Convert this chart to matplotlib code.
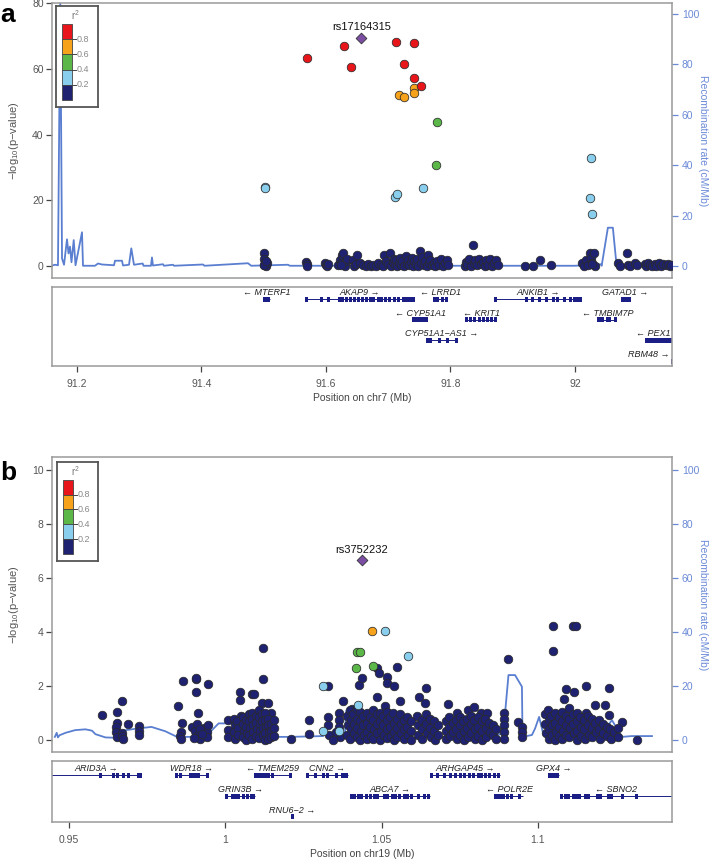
import numpy as np
import matplotlib
matplotlib.use('Agg')
import matplotlib.pyplot as plt
from matplotlib.patches import Rectangle

plt.rcParams['font.family'] = ['Liberation Sans', 'DejaVu Sans']
plt.rcParams['mathtext.default'] = 'regular'

# ---------------- DATA: panel a (chr7) ----------------
xlim_a = (91.16, 92.156)
lead_a = (91.657, 69.5, 'rs17164315')
red_a = [(91.569, 63.2), (91.629, 67.1), (91.640, 60.6), (91.713, 68.1), (91.741, 67.8),
         (91.725, 61.6), (91.741, 57.1), (91.752, 54.9)]
orange_a = [(91.741, 54.1), (91.741, 52.6), (91.717, 52.1), (91.726, 51.5)]
green_a = [(91.778, 43.9), (91.777, 30.8)]
lblue_a = [(91.502, 24.2), (91.502, 23.7), (91.711, 21.0), (91.714, 21.8), (91.756, 23.8),
           (92.026, 32.8), (92.025, 20.7), (92.027, 15.8)]
navy_a = [
    (91.500, 3.9), (91.501, 2.1), (91.502, 1.2), (91.503, 0.6), (91.500, 0.2), (91.504, 0.0),
    (91.505, 0.9), (91.501, 0.4), (91.503, 1.6),
    (91.568, 1.3), (91.569, 0.5), (91.570, 0.0),
    (91.598, 0.8), (91.600, 0.2), (91.602, 0.0), (91.604, 0.5),
    (91.620, 0.3), (91.622, 1.8), (91.624, 0.9), (91.626, 3.3), (91.628, 3.9), (91.630, 0.0),
    (91.632, 1.5), (91.634, 2.2), (91.625, 0.4),
    (91.643, 1.8), (91.645, 0.0), (91.648, 0.5), (91.650, 3.3), (91.655, 0.9), (91.660, 0.2),
    (91.664, 0.0), (91.668, 0.6), (91.672, 0.1), (91.676, 0.4), (91.680, 0.0), (91.684, 0.8),
    (91.688, 0.3), (91.692, 0.0), (91.694, 3.5), (91.697, 1.5), (91.699, 0.6), (91.703, 4.1),
    (91.705, 0.0), (91.707, 1.2), (91.709, 2.2), (91.711, 0.4), (91.713, 1.8), (91.715, 0.0),
    (91.717, 0.9), (91.719, 2.5), (91.721, 0.3), (91.723, 1.5), (91.725, 0.0), (91.728, 2.9),
    (91.730, 0.7), (91.732, 1.9), (91.734, 0.2), (91.736, 1.1), (91.738, 2.4), (91.740, 0.0),
    (91.742, 1.4), (91.744, 0.5), (91.746, 2.0), (91.748, 0.0), (91.751, 4.6), (91.753, 1.0),
    (91.755, 2.6), (91.757, 0.3), (91.759, 1.6), (91.762, 0.0), (91.764, 3.3), (91.766, 0.8),
    (91.768, 1.9), (91.770, 0.2), (91.773, 1.0), (91.776, 0.0), (91.779, 1.5), (91.782, 0.4),
    (91.785, 2.0), (91.788, 0.0), (91.791, 0.9), (91.794, 1.8), (91.796, 0.3),
    (91.823, 0.0), (91.825, 1.3), (91.827, 0.5), (91.830, 2.0), (91.833, 0.0), (91.836, 6.4),
    (91.838, 0.8), (91.840, 1.7), (91.843, 0.2), (91.846, 2.0), (91.849, 0.6), (91.852, 1.2),
    (91.855, 0.0), (91.858, 1.8), (91.861, 0.4), (91.864, 2.0), (91.867, 0.0), (91.870, 1.0),
    (91.873, 1.8), (91.876, 0.3),
    (91.920, 0.0), (91.932, 0.0), (91.944, 1.7), (91.961, 0.3),
    (92.012, 0.9), (92.015, 0.0), (92.018, 1.8), (92.021, 0.3), (92.024, 4.1), (92.026, 2.3),
    (92.028, 1.0), (92.030, 4.1), (92.032, 0.0), (92.027, 0.5),
    (92.069, 0.8), (92.072, 0.0), (92.084, 4.1), (92.086, 0.4), (92.089, 0.0), (92.097, 0.9),
    (92.100, 0.2),
    (92.112, 0.5), (92.115, 0.0), (92.118, 0.8), (92.121, 0.2), (92.124, 0.0), (92.128, 0.6),
    (92.131, 0.1), (92.135, 0.8), (92.138, 0.0), (92.142, 0.5), (92.146, 0.2), (92.149, 0.7),
    (92.153, 0.0), (92.155, 0.4),
]
recomb_a_x = [91.1600, 91.1648, 91.1696, 91.1733, 91.1761, 91.1793, 91.1841, 91.1865, 91.1889,
              91.1913, 91.1949, 91.1978, 91.2082, 91.2098, 91.2291, 91.2339, 91.2403, 91.2596,
              91.2612, 91.2724, 91.2741, 91.2837, 91.2874, 91.2917, 91.3057, 91.3070, 91.3190,
              91.3206, 91.3222, 91.3383, 91.3400, 91.3544, 91.3560, 91.4026, 91.4050, 91.4749,
              91.4800, 91.5391, 91.5420, 91.6000, 91.7000, 91.8000, 91.9000, 92.0000, 92.0417,
              92.0430, 92.0530, 92.0610, 92.0670, 92.0750, 92.1560]
recomb_a_y = [0.2, 0.5, 0.3, 105.0, 3.0, 0.5, 10.6, 5.0, 7.7,
              1.5, 10.3, 0.3, 13.4, 0.1, 0.1, 1.0, 0.6, 0.3,
              2.1, 2.1, 0.2, 0.5, 7.0, 0.5, 1.0, 0.1, 0.1,
              3.4, 0.2, 0.7, 0.1, 0.5, 0.1, 0.6, 0.1, 1.1,
              0.1, 0.5, 0.1, 0.1, 0.1, 0.1, 0.1, 0.1, 0.7,
              0.1, 15.2, 15.2, 0.1, 0.1, 0.1]
genes_a = [
    ('MTERF1', 91.5010, 91.5095, '-', 0, [91.5015, 91.5045, 91.5080]),
    ('AKAP9', 91.5680, 91.7410, '+', 0, [91.5685, 91.593, 91.604, 91.622, 91.627, 91.633, 91.640,
                                         91.646, 91.652, 91.658, 91.666, 91.671, 91.677, 91.684,
                                         91.690, 91.695, 91.702, 91.710, 91.717, 91.724, 91.729,
                                         91.733, 91.737, 91.740]),
    ('LRRD1', 91.7730, 91.7940, '-', 0, [91.7740, 91.7800, 91.7880, 91.7930]),
    ('ANKIB1', 91.8720, 92.0095, '+', 0, [91.8725, 91.9215, 91.9325, 91.9434, 91.9544, 91.9653,
                                          91.9727, 91.9836, 91.9924, 91.9997, 92.0041, 92.0090]),
    ('GATAD1', 92.0750, 92.0880, '+', 0, [92.0760, 92.0800, 92.0840, 92.0870]),
    ('CYP51A1', 91.7400, 91.7630, '-', 1, [91.7405, 91.7440, 91.7480, 91.7530, 91.7570, 91.7620]),
    ('KRIT1', 91.8260, 91.8740, '-', 1, [91.8265, 91.8320, 91.8390, 91.8460, 91.8530, 91.8600,
                                         91.8660, 91.8730]),
    ('TMBIM7P', 92.0380, 92.0660, '-', 1, [92.0385, 92.0420, 92.0450, 92.0520, 92.0560, 92.0645]),
    ('CYP51A1\u2212AS1', 91.7620, 91.8100, '+', 2, [91.7625, 91.7655, 91.7685, 91.7825, 91.7960,
                                                   91.8095]),
    ('PEX1', 92.1140, 92.1700, '-', 2, [92.1150, 92.1190, 92.1230, 92.1270, 92.1310, 92.1350,
                                        92.1390, 92.1430, 92.1470, 92.1510, 92.1555]),
    ('RBM48', 92.1555, 92.1900, '+', 3, [92.1562]),
]

# ---------------- DATA: panel b (chr19) ----------------
xlim_b = (0.9446, 1.1429)
lead_b = (1.0437, 6.67, 'rs3752232')
red_b = []
orange_b = [(1.0471, 4.06)]
green_b = [(1.0423, 3.26), (1.0431, 3.26), (1.0418, 2.67), (1.0472, 2.74)]
lblue_b = [(1.0511, 4.06), (1.0585, 3.11), (1.0312, 2.01), (1.0426, 1.30), (1.0312, 0.33),
           (1.0365, 0.33)]
navy_b = [
    # 0.96 - 0.973
    (0.9606, 0.94), (0.9654, 1.05), (0.9654, 0.62), (0.9652, 0.48), (0.9650, 0.30), (0.9653, 0.12),
    (0.9670, 1.46), (0.9669, 0.28), (0.9671, 0.15), (0.9672, 0.03), (0.9689, 0.59), (0.9724, 0.52),
    (0.9724, 0.34), (0.9724, 0.18),
    # 0.985 - 0.995
    (0.9849, 1.26), (0.9864, 2.20), (0.9863, 0.62), (0.9858, 0.30), (0.9855, 0.17), (0.9860, 0.05),
    (0.9907, 2.27), (0.9908, 2.29), (0.9908, 1.77), (0.9914, 1.00), (0.9945, 2.07), (0.9895, 0.50),
    (0.9903, 0.35), (0.9912, 0.20), (0.9920, 0.05), (0.9932, 0.45), (0.9942, 0.30), (0.9943, 0.10),
    (0.9910, 0.60), (0.9918, 0.42), (0.9926, 0.22), (0.9900, 0.08), (0.9945, 0.55),
    # 1.000 - 1.016
    (1.0009, 0.76), (1.0047, 1.78), (1.0048, 1.47), (1.0050, 0.90), (1.0086, 1.70), (1.0092, 1.70),
    (1.0121, 3.40), (1.0121, 2.25), (1.0118, 1.36), (1.0136, 1.36), (1.0147, 1.01), (1.0010, 0.37),
    (1.0010, 0.12), (1.0028, 0.80), (1.0030, 0.55), (1.0029, 0.30), (1.0031, 0.05), (1.0038, 0.70),
    (1.0040, 0.45), (1.0041, 0.20), (1.0057, 0.85), (1.0058, 0.60), (1.0059, 0.35), (1.0058, 0.10),
    (1.0067, 0.75), (1.0068, 0.50), (1.0069, 0.25), (1.0067, 0.02), (1.0076, 0.95), (1.0077, 0.70),
    (1.0078, 0.45), (1.0077, 0.20), (1.0086, 1.00), (1.0087, 0.80), (1.0088, 0.55), (1.0089, 0.30),
    (1.0087, 0.05), (1.0099, 0.90), (1.0100, 0.65), (1.0101, 0.40), (1.0100, 0.15), (1.0108, 1.10),
    (1.0109, 0.85), (1.0110, 0.60), (1.0111, 0.35), (1.0109, 0.08), (1.0118, 0.95), (1.0119, 0.70),
    (1.0120, 0.45), (1.0120, 0.20), (1.0127, 1.00), (1.0128, 0.75), (1.0129, 0.50), (1.0128, 0.25),
    (1.0127, 0.02), (1.0137, 0.80), (1.0138, 0.55), (1.0139, 0.30), (1.0138, 0.05), (1.0147, 0.60),
    (1.0148, 0.35), (1.0147, 0.10), (1.0156, 0.75), (1.0157, 0.45), (1.0157, 0.15),
    # 1.021 - 1.038
    (1.0211, 0.05), (1.0268, 0.74), (1.0268, 0.21), (1.0329, 2.01), (1.0329, 0.86), (1.0330, 0.55),
    (1.0331, 0.20), (1.0364, 1.00), (1.0364, 0.75), (1.0365, 0.50), (1.0366, 0.10), (1.0377, 1.44),
    (1.0355, 0.30), (1.0345, 0.02),
    # 1.039 - 1.060
    (1.0428, 2.05), (1.0438, 2.29), (1.0486, 2.69), (1.0492, 2.49), (1.0516, 2.33), (1.0518, 2.12),
    (1.0540, 2.00), (1.0550, 2.72), (1.0487, 1.60), (1.0559, 1.44), (1.0511, 1.27), (1.0405, 1.17),
    (1.0390, 0.90), (1.0392, 0.55), (1.0391, 0.20), (1.0400, 1.10), (1.0401, 0.75), (1.0402, 0.40),
    (1.0400, 0.05), (1.0410, 0.95), (1.0411, 0.60), (1.0412, 0.25), (1.0420, 1.17), (1.0421, 0.80),
    (1.0422, 0.45), (1.0421, 0.10), (1.0431, 1.05), (1.0432, 0.70), (1.0433, 0.35), (1.0432, 0.02),
    (1.0441, 0.90), (1.0442, 0.55), (1.0443, 0.20), (1.0452, 1.00), (1.0453, 0.65), (1.0454, 0.30),
    (1.0453, 0.05), (1.0463, 0.85), (1.0464, 0.50), (1.0465, 0.15), (1.0473, 1.10), (1.0474, 0.75),
    (1.0475, 0.40), (1.0474, 0.05), (1.0484, 0.95), (1.0485, 0.60), (1.0486, 0.25), (1.0495, 1.00),
    (1.0496, 0.70), (1.0497, 0.35), (1.0496, 0.02), (1.0505, 0.90), (1.0506, 0.55), (1.0507, 0.20),
    (1.0516, 1.05), (1.0517, 0.75), (1.0518, 0.40), (1.0517, 0.08), (1.0527, 0.85), (1.0528, 0.50),
    (1.0529, 0.15), (1.0538, 1.00), (1.0539, 0.65), (1.0540, 0.30), (1.0539, 0.02), (1.0549, 0.80),
    (1.0550, 0.45), (1.0551, 0.12), (1.0560, 0.95), (1.0561, 0.60), (1.0562, 0.25), (1.0571, 0.75),
    (1.0572, 0.40), (1.0573, 0.05), (1.0582, 0.85), (1.0583, 0.50), (1.0584, 0.18), (1.0593, 0.70),
    (1.0594, 0.35), (1.0595, 0.02),
    # 1.061 - 1.068
    (1.0620, 1.59), (1.0641, 1.94), (1.0640, 1.36), (1.0615, 0.90), (1.0617, 0.55), (1.0618, 0.20),
    (1.0628, 0.75), (1.0629, 0.40), (1.0630, 0.05), (1.0642, 0.95), (1.0643, 0.60), (1.0644, 0.25),
    (1.0655, 0.80), (1.0656, 0.45), (1.0657, 0.10), (1.0668, 0.70), (1.0669, 0.35), (1.0670, 0.02),
    (1.0680, 0.55), (1.0681, 0.20),
    # 1.070 - 1.087
    (1.0712, 1.33), (1.0741, 1.00), (1.0777, 1.11), (1.0796, 1.23), (1.0818, 1.01), (1.0838, 0.99),
    (1.0705, 0.70), (1.0706, 0.35), (1.0707, 0.05), (1.0716, 0.85), (1.0717, 0.50), (1.0718, 0.15),
    (1.0727, 0.65), (1.0728, 0.30), (1.0738, 0.75), (1.0739, 0.40), (1.0740, 0.05), (1.0750, 0.85),
    (1.0751, 0.55), (1.0752, 0.20), (1.0762, 0.70), (1.0763, 0.35), (1.0764, 0.02), (1.0773, 0.80),
    (1.0774, 0.45), (1.0775, 0.10), (1.0785, 0.90), (1.0786, 0.60), (1.0787, 0.25), (1.0797, 0.75),
    (1.0798, 0.40), (1.0799, 0.05), (1.0808, 0.85), (1.0809, 0.50), (1.0810, 0.15), (1.0820, 0.70),
    (1.0821, 0.35), (1.0822, 0.02), (1.0832, 0.80), (1.0833, 0.45), (1.0834, 0.10), (1.0845, 0.65),
    (1.0846, 0.30), (1.0856, 0.55), (1.0857, 0.20), (1.0866, 0.40), (1.0867, 0.05),
    # 1.089 - 1.095
    (1.0892, 1.02), (1.0892, 0.80), (1.0892, 0.56), (1.0892, 0.31), (1.0892, 0.06), (1.0905, 3.00),
    (1.0937, 0.66), (1.0950, 0.49), (1.0950, 0.31), (1.0950, 0.12),
    # 1.102 - 1.132
    (1.1049, 4.22), (1.1049, 3.30), (1.1113, 4.22), (1.1121, 4.22), (1.1090, 1.88), (1.1116, 1.79),
    (1.1084, 1.51), (1.1154, 2.00), (1.1154, 1.01), (1.1183, 1.30), (1.1215, 1.30), (1.1226, 1.94),
    (1.1227, 0.93), (1.1270, 0.68), (1.1317, 0.00),
    (1.1023, 0.95), (1.1024, 0.60), (1.1025, 0.25), (1.1033, 1.10), (1.1034, 0.75), (1.1035, 0.40),
    (1.1034, 0.05), (1.1043, 0.90), (1.1044, 0.55), (1.1045, 0.20), (1.1055, 1.00), (1.1056, 0.65),
    (1.1057, 0.30), (1.1056, 0.02), (1.1066, 0.85), (1.1067, 0.50), (1.1068, 0.15), (1.1077, 1.05),
    (1.1078, 0.70), (1.1079, 0.35), (1.1078, 0.05), (1.1089, 0.90), (1.1090, 0.55), (1.1091, 0.20),
    (1.1100, 1.20), (1.1101, 0.80), (1.1102, 0.45), (1.1101, 0.10), (1.1112, 0.95), (1.1113, 0.60),
    (1.1114, 0.25), (1.1124, 1.00), (1.1125, 0.70), (1.1126, 0.35), (1.1125, 0.02), (1.1136, 0.85),
    (1.1137, 0.50), (1.1138, 0.15), (1.1148, 0.75), (1.1149, 0.40), (1.1150, 0.05), (1.1160, 0.90),
    (1.1161, 0.55), (1.1162, 0.20), (1.1172, 0.80), (1.1173, 0.45), (1.1174, 0.10), (1.1184, 0.65),
    (1.1185, 0.30), (1.1196, 0.75), (1.1197, 0.40), (1.1198, 0.05), (1.1208, 0.60), (1.1209, 0.25),
    (1.1220, 0.50), (1.1221, 0.15), (1.1232, 0.40), (1.1233, 0.05), (1.1244, 0.30), (1.1256, 0.45),
    (1.1257, 0.10),
]
recomb_b_x = [0.9455, 0.9461, 0.9465, 0.9470, 0.9489, 0.9520, 0.9553, 0.9574, 0.9585, 0.9617,
              0.9643, 0.9670, 0.9713, 0.9764, 0.9808, 0.9846, 0.9936, 0.9979, 1.0022, 1.0043,
              1.0089, 1.0134, 1.0207, 1.0313, 1.0316, 1.0383, 1.0387, 1.0399, 1.0405, 1.0420,
              1.0600, 1.0879, 1.0895, 1.0906, 1.0927, 1.0949, 1.0951, 1.0981, 1.0991, 1.1004,
              1.1018, 1.1200, 1.1237, 1.1269, 1.1300, 1.1365]
recomb_b_y = [1.2, 2.7, 1.0, 1.8, 2.7, 3.7, 4.0, 3.5, 2.2, 1.0,
              0.9, 3.5, 4.2, 4.9, 3.3, 1.2, 1.2, 6.2, 6.2, 4.0,
              2.5, 1.2, 1.2, 1.5, 2.7, 2.7, 10.9, 10.5, 1.2, 0.6,
              0.8, 2.1, 9.9, 24.1, 24.1, 19.8, 1.2, 1.9, 4.3, 8.6,
              1.9, 1.9, 7.4, 1.2, 1.5, 1.5]
genes_b = [
    ('ARID3A', 0.9300, 0.9732, '+', 0, [0.9602, 0.9643, 0.9657, 0.9676, 0.9690, 0.9722, 0.9728]),
    ('WDR18', 0.9841, 0.9946, '+', 0, [0.9844, 0.9858, 0.9890, 0.9897, 0.9904, 0.9913, 0.9942]),
    ('TMEM259', 1.0095, 1.0210, '-', 0, [1.0097, 1.0103, 1.0109, 1.0116, 1.0123, 1.0130, 1.0137,
                                         1.0151, 1.0208]),
    ('CNN2', 1.0261, 1.0392, '+', 0, [1.0263, 1.0290, 1.0315, 1.0327, 1.0356, 1.0375, 1.0381,
                                      1.0388]),
    ('ARHGAP45', 1.0656, 1.0878, '+', 0, [1.0660, 1.0678, 1.0700, 1.0722, 1.0736, 1.0754, 1.0766,
                                          1.0780, 1.0795, 1.0809, 1.0821, 1.0831, 1.0846, 1.0861,
                                          1.0875]),
    ('GPX4', 1.1033, 1.1068, '+', 0, [1.1036, 1.1043, 1.1050, 1.1057, 1.1064]),
    ('GRIN3B', 1.0002, 1.0095, '+', 1, [1.0004, 1.0022, 1.0034, 1.0044, 1.0060, 1.0070, 1.0085,
                                        1.0092]),
    ('ABCA7', 1.0400, 1.0656, '+', 1, [1.0403, 1.0415, 1.0426, 1.0436, 1.0451, 1.0466, 1.0476,
                                       1.0488, 1.0509, 1.0520, 1.0534, 1.0546, 1.0558, 1.0572,
                                       1.0583, 1.0597, 1.0619, 1.0637, 1.0651]),
    ('POLR2E', 1.0864, 1.0953, '-', 1, [1.0866, 1.0873, 1.0880, 1.0890, 1.0902, 1.0916, 1.0940]),
    ('SBNO2', 1.1073, 1.1600, '-', 1, [1.1076, 1.1087, 1.1099, 1.1114, 1.1124, 1.1134, 1.1153,
                                       1.1163, 1.1190, 1.1201, 1.1226, 1.1237, 1.1270, 1.1314]),
    ('RNU6\u22122', 1.0213, 1.0215, '+', 2, [1.0214]),
]

ld_cols = ['#1E2270', '#8ACEEE', '#5BB848', '#F7A21B', '#E8161B']  # r2 bins, low -> high
ld_breaks = ['0.2', '0.4', '0.6', '0.8']
recomb_col = '#5A7ED0'
axis_blue = '#6B8AD6'
gray = '#555555'

W, H = 714, 860
fig = plt.figure(figsize=(W / 100, H / 100), dpi=100)


def box(x0, y0, x1, y1):
    # axes placed in pixel coords of the 714x860 canvas (y downwards)
    return fig.add_axes([x0 / W, 1 - y1 / H, (x1 - x0) / W, (y1 - y0) / H])


def draw_assoc(ax, navy, lblue, green, orange, red, lead, rx, ry, xlim, ylim, rylim, yticks):
    ax2 = ax.twinx()
    ax.set_zorder(ax2.get_zorder() + 1)
    ax.patch.set_visible(False)
    ax2.plot(rx, ry, color=recomb_col, lw=1.3)
    ax2.set_ylim(rylim)
    ax2.set_yticks([0, 20, 40, 60, 80, 100])
    ax2.tick_params(axis='y', colors=axis_blue, labelsize=7.5, length=4, width=0.9, pad=3)
    for s in ax2.spines.values():
        s.set_visible(False)

    for pts, c in [(navy, ld_cols[0]), (lblue, ld_cols[1]), (green, ld_cols[2]),
                   (orange, ld_cols[3]), (red, ld_cols[4])]:
        if pts:
            xs, ys = zip(*pts)
            ax.scatter(xs, ys, s=38, c=c, edgecolors='#2b2b2b', linewidths=0.55, zorder=3)
    ax.scatter([lead[0]], [lead[1]], marker='D', s=30, c='#7B4EA3', edgecolors='#333333',
               linewidths=0.6, zorder=4)
    ax.annotate(lead[2], (lead[0], lead[1]), xytext=(0, 7.5), textcoords='offset points',
                ha='center', va='center', fontsize=8, color='#111111')
    ax.set_xlim(xlim)
    ax.set_ylim(ylim)
    ax.set_yticks(yticks)
    ax.set_xticks([])
    ax.tick_params(axis='y', colors='#444444', labelcolor='#555555', labelsize=7.5,
                   length=4, width=0.9, pad=2)
    for s in ax.spines.values():
        s.set_color('#9a9a9a')
        s.set_linewidth(1.1)
    return ax2


def draw_legend(lax):
    lax.set_zorder(10)
    lax.set_xlim(0, 42)
    lax.set_ylim(101, 0)
    lax.set_xticks([])
    lax.set_yticks([])
    for s in lax.spines.values():
        s.set_color('#555555')
        s.set_linewidth(1.3)
    top, step = 18, 15.2
    for i, c in enumerate(ld_cols[::-1]):
        lax.add_patch(Rectangle((6, top + i * step), 10, step, facecolor=c,
                                edgecolor='#444444', lw=0.6))
    for i, lab in enumerate(ld_breaks[::-1]):
        yy = top + (i + 1) * step
        lax.plot([16, 20], [yy, yy], color='#444444', lw=0.7)
        lax.text(21, yy, lab, fontsize=6.5, color='#888888', va='center', ha='left')
    lax.text(19, 9, 'r$^2$', fontsize=7, color='#777777', ha='center', va='center')


def draw_genes(gax, genes, xlim, ylim, xticks, xticklabels, xlabel):
    gax.set_xlim(xlim)
    gax.set_ylim(ylim)
    dx = (xlim[1] - xlim[0]) / 620.0
    texts = []
    for name, start, end, strand, row, exons in genes:
        gax.plot([start, end], [row, row], color='#1B1F85', lw=0.7, solid_capstyle='butt')
        for e in exons:
            gax.add_patch(Rectangle((e - 1.5 * dx, row - 0.12), 3 * dx, 0.24,
                                    facecolor='#1B1F85', edgecolor='none'))
        lab = '\u2190 ' + name if strand == '-' else name + ' \u2192'
        cx = (max(start, xlim[0]) + min(end, xlim[1])) / 2
        t = gax.text(cx, row - 0.31, lab, ha='center', va='center', fontsize=6.5,
                     style='italic', color='#222222')
        texts.append(t)
    gax.set_yticks([])
    gax.set_xticks(xticks)
    gax.set_xticklabels(xticklabels)
    gax.tick_params(axis='x', colors='#444444', labelcolor='#555555', labelsize=7.5,
                    length=4.5, width=0.9, pad=5)
    gax.set_xlabel(xlabel, fontsize=7.5, color='#444444', labelpad=3)
    for s in gax.spines.values():
        s.set_color('#9a9a9a')
        s.set_linewidth(1.1)
    return texts


def clamp_labels(gax, texts, xlim):
    fig.canvas.draw()
    r = fig.canvas.get_renderer()
    abb = gax.get_window_extent(r)
    dx = (xlim[1] - xlim[0]) / abb.width
    for t in texts:
        bb = t.get_window_extent(r)
        x, y = t.get_position()
        if bb.x1 > abb.x1 - 1:
            t.set_position((x - (bb.x1 - abb.x1 + 2) * dx, y))
        elif bb.x0 < abb.x0 + 1:
            t.set_position((x + (abb.x0 - bb.x0 + 4) * dx, y))


# ---------------- panel a ----------------
ax_a = box(52, 3, 672, 278)
draw_assoc(ax_a, navy_a, lblue_a, green_a, orange_a, red_a, lead_a, recomb_a_x, recomb_a_y,
           xlim_a, (-3.65, 80.06), (-4.76, 104.4), [0, 20, 40, 60, 80])
draw_legend(box(56, 6, 98, 107))
g_a = box(52, 287, 672, 366)
ta = draw_genes(g_a, genes_a, xlim_a, (3.24, -0.585), [91.2, 91.4, 91.6, 91.8, 92.0],
                ['91.2', '91.4', '91.6', '91.8', '92'], 'Position on chr7 (Mb)')

# ---------------- panel b ----------------
ax_b = box(52, 457, 672, 752)
draw_assoc(ax_b, navy_b, lblue_b, green_b, orange_b, red_b, lead_b, recomb_b_x, recomb_b_y,
           xlim_b, (-0.44, 10.49), (-4.4, 104.9), [0, 2, 4, 6, 8, 10])
draw_legend(box(57, 462, 98, 561))
g_b = box(52, 761, 672, 822)
tb = draw_genes(g_b, genes_b, xlim_b, (2.24, -0.68), [0.95, 1.0, 1.05, 1.1],
                ['0.95', '1', '1.05', '1.1'], 'Position on chr19 (Mb)')

clamp_labels(g_a, ta, xlim_a)
clamp_labels(g_b, tb, xlim_b)

# axis titles and panel letters
for yc in (140.5, 604.5):
    fig.text(14 / W, 1 - yc / H, '\u2212log$_{10}$(p\u2212value)', rotation=90, ha='center',
             va='center', fontsize=8, color='#555555')
    fig.text(703 / W, 1 - yc / H, 'Recombination rate (cM/Mb)', rotation=270, ha='center',
             va='center', fontsize=7.5, color=axis_blue)
fig.text(0 / W, 1 - 15 / H, 'a', fontsize=19, fontweight='bold', ha='left', va='center')
fig.text(0 / W, 1 - 473 / H, 'b', fontsize=19, fontweight='bold', ha='left', va='center')

fig.savefig('out.png', dpi=100)
